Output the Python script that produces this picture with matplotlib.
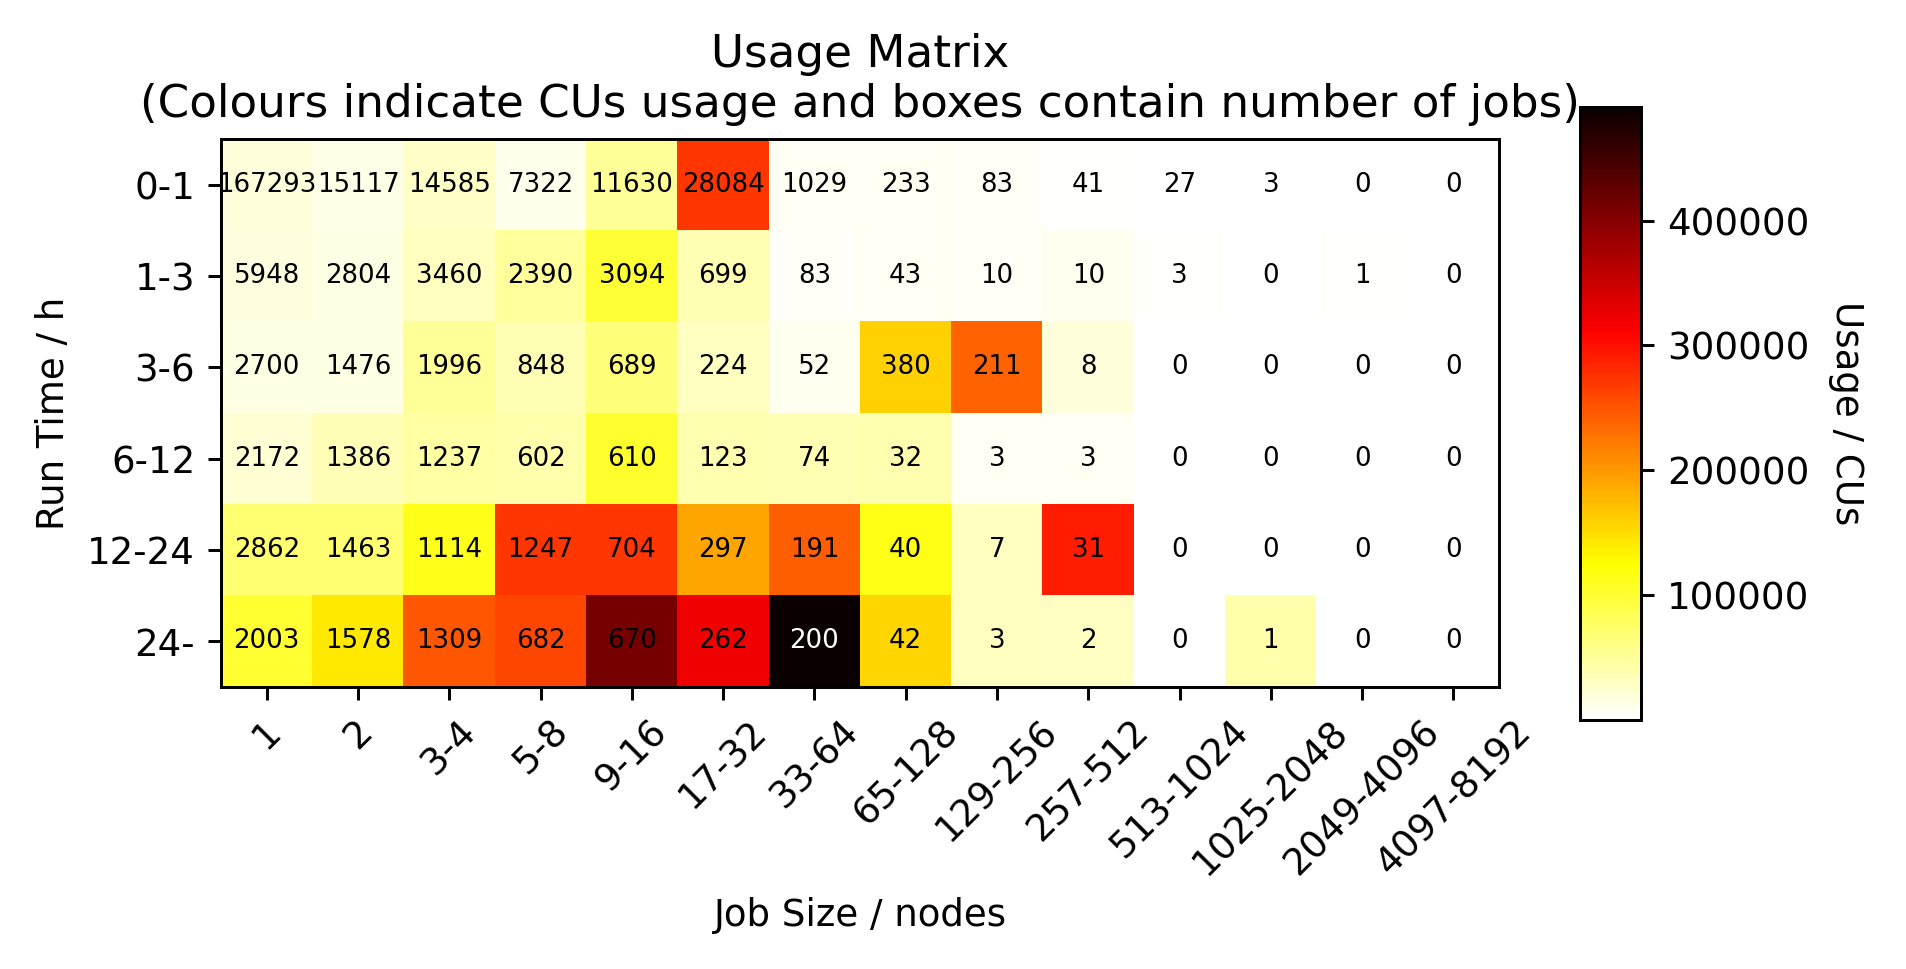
import numpy as np
import matplotlib
matplotlib.use("Agg")
import matplotlib.pyplot as plt

job_sizes = ["1", "2", "3-4", "5-8", "9-16", "17-32", "33-64", "65-128",
             "129-256", "257-512", "513-1024", "1025-2048", "2049-4096", "4097-8192"]
run_times = ["0-1", "1-3", "3-6", "6-12", "12-24", "24-"]

# number of jobs in each box
jobs = np.array([
    [167293, 15117, 14585, 7322, 11630, 28084, 1029, 233, 83, 41, 27, 3, 0, 0],
    [5948, 2804, 3460, 2390, 3094, 699, 83, 43, 10, 10, 3, 0, 1, 0],
    [2700, 1476, 1996, 848, 689, 224, 52, 380, 211, 8, 0, 0, 0, 0],
    [2172, 1386, 1237, 602, 610, 123, 74, 32, 3, 3, 0, 0, 0, 0],
    [2862, 1463, 1114, 1247, 704, 297, 191, 40, 7, 31, 0, 0, 0, 0],
    [2003, 1578, 1309, 682, 670, 262, 200, 42, 3, 2, 0, 1, 0, 0],
])

# usage in CUs
usage = np.array([
    [18700, 12300, 27500, 9800, 51000, 271500, 7400, 6000, 5000, 2500, 1500, 100, 0, 0],
    [16000, 15000, 32000, 48600, 99700, 37000, 4000, 6500, 4000, 8000, 3000, 0, 3000, 0],
    [15000, 14000, 50000, 37000, 66000, 32000, 9000, 158000, 239000, 19000, 0, 0, 0, 0],
    [22000, 35000, 46000, 42000, 102000, 40000, 37000, 40000, 7000, 7000, 0, 0, 0, 0],
    [71000, 71000, 112000, 271000, 271000, 191000, 242000, 115000, 32000, 290000, 0, 0, 0, 0],
    [100000, 141000, 249000, 260000, 412000, 321000, 491000, 154000, 32000, 30000, 0, 42000, 0, 0],
])

# empty boxes are left blank
usage_masked = np.ma.masked_where(usage == 0, usage)

fig = plt.figure(figsize=(1906 / 267, 969 / 267), dpi=267)
ax = fig.add_axes([0.116, 0.291, 0.6705, 0.5655])
im = ax.imshow(usage_masked, cmap="hot_r", interpolation="nearest")

ax.set_xticks(range(len(job_sizes)))
ax.set_xticklabels(job_sizes, rotation=45)
ax.set_yticks(range(len(run_times)))
ax.set_yticklabels(run_times)
ax.set_xlabel("Job Size / nodes")
ax.set_ylabel("Run Time / h")
ax.set_title("Usage Matrix\n(Colours indicate CUs usage and boxes contain number of jobs)",
             fontsize=12.2)

for i in range(len(run_times)):
    for j in range(len(job_sizes)):
        colour = "white" if usage[i, j] > 0.9 * usage.max() else "black"
        ax.text(j, i, str(jobs[i, j]), ha="center", va="center", fontsize=7, color=colour)

cax = fig.add_axes([0.829, 0.257, 0.032, 0.6326])
cbar = fig.colorbar(im, cax=cax)
cbar.set_label("Usage / CUs", rotation=270, labelpad=15)

fig.savefig("out.png", dpi=267)
